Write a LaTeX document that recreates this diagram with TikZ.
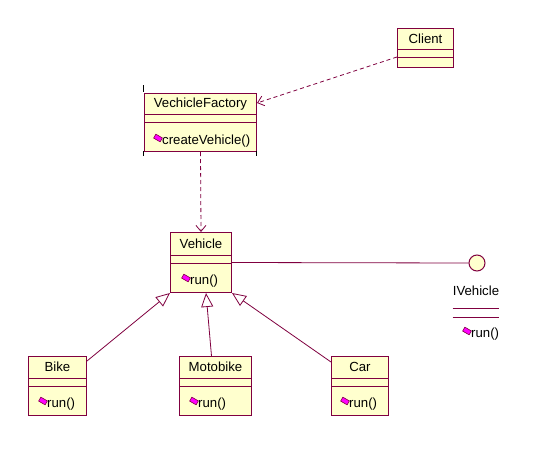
\documentclass[tikz,border=0pt]{standalone}
\usepackage{fontspec}
\setmainfont{Liberation Sans}
\usetikzlibrary{arrows.meta,calc}
\definecolor{umlfill}{RGB}{255,255,206}
\definecolor{umlline}{RGB}{128,0,64}
\definecolor{umlicon}{RGB}{255,0,255}
\begin{document}
\begin{tikzpicture}[x=1pt,y=-1pt,
 cls/.style={draw=umlline, fill=umlfill, line width=1pt, rectangle, inner sep=0, anchor=north west},
 ttl/.style={font=\fontsize{13.2}{15}\selectfont, inner sep=0},
 mth/.style={font=\fontsize{13.2}{15}\selectfont, inner sep=0, anchor=west},
 icon/.style={draw=umlline, fill=umlicon, line width=0.6pt, minimum width=7.5pt, minimum height=4.5pt, inner sep=0, rotate=-30},
 sep/.style={draw=umlline, line width=1pt},
 tick/.style={draw=black, line width=1pt},
 inherit/.style={draw=umlline, line width=0.8pt, -{Triangle[open,length=14pt,width=12pt,fill=white]}},
 dep/.style={draw=umlline, line width=0.8pt, dash pattern=on 4pt off 3pt, -{Straight Barb[length=6pt,width=10pt]}},
]
\useasboundingbox[fill=white] (0,0) rectangle (536,474);

% Client
\node[cls, minimum width=56pt, minimum height=39pt] (client) at (397,28) {};
\node[ttl] (clientT) at ($(client.north)+(0,11)$) {Client};
\draw[sep] ([yshift=-21pt]client.north west) -- ([yshift=-21pt]client.north east);
\draw[sep] ([yshift=-29pt]client.north west) -- ([yshift=-29pt]client.north east);

% VechicleFactory
\node[cls, minimum width=112pt, minimum height=58pt] (fac) at (144,93) {};
\node[ttl] (facT) at ($(fac.north)+(0,11)$) {VechicleFactory};
\draw[sep] ([yshift=-21pt]fac.north west) -- ([yshift=-21pt]fac.north east);
\draw[sep] ([yshift=-29pt]fac.north west) -- ([yshift=-29pt]fac.north east);
\node[mth] (facM) at ($(fac.south west)+(18,-11)$) {createVehicle()};
\node[icon] (facI) at ($(facM.west)+(-4,-3)$) {};
\draw[tick] (143,85) -- (143,92);
\draw[tick] (143,151) -- (143,156);
\draw[tick] (256,151) -- (256,156);

% Vehicle
\node[cls, minimum width=61pt, minimum height=60pt] (veh) at (170,232) {};
\node[ttl] (vehT) at ($(veh.north)+(0,12)$) {Vehicle};
\draw[sep] ([yshift=-23pt]veh.north west) -- ([yshift=-23pt]veh.north east);
\draw[sep] ([yshift=-31pt]veh.north west) -- ([yshift=-31pt]veh.north east);
\node[mth] (vehM) at ($(veh.south west)+(20,-12)$) {run()};
\node[icon] (vehI) at ($(vehM.west)+(-4,-3)$) {};

% Bike
\node[cls, minimum width=58pt, minimum height=59pt] (bike) at (28,356) {};
\node[ttl] (bikeT) at ($(bike.north)+(0,11)$) {Bike};
\draw[sep] ([yshift=-22pt]bike.north west) -- ([yshift=-22pt]bike.north east);
\draw[sep] ([yshift=-30pt]bike.north west) -- ([yshift=-30pt]bike.north east);
\node[mth] (bikeM) at ($(bike.south west)+(19,-12)$) {run()};
\node[icon] (bikeI) at ($(bikeM.west)+(-4,-3)$) {};

% Motobike
\node[cls, minimum width=72pt, minimum height=59pt] (moto) at (179,356) {};
\node[ttl] (motoT) at ($(moto.north)+(0,11)$) {Motobike};
\draw[sep] ([yshift=-22pt]moto.north west) -- ([yshift=-22pt]moto.north east);
\draw[sep] ([yshift=-30pt]moto.north west) -- ([yshift=-30pt]moto.north east);
\node[mth] (motoM) at ($(moto.south west)+(19,-12)$) {run()};
\node[icon] (motoI) at ($(motoM.west)+(-4,-3)$) {};

% Car
\node[cls, minimum width=57pt, minimum height=59pt] (car) at (331,356) {};
\node[ttl] (carT) at ($(car.north)+(0,11)$) {Car};
\draw[sep] ([yshift=-22pt]car.north west) -- ([yshift=-22pt]car.north east);
\draw[sep] ([yshift=-30pt]car.north west) -- ([yshift=-30pt]car.north east);
\node[mth] (carM) at ($(car.south west)+(18,-12)$) {run()};
\node[icon] (carI) at ($(carM.west)+(-4,-3)$) {};

% IVehicle interface
\node[circle, draw=umlline, fill=umlfill, line width=1pt, minimum size=16pt, inner sep=0] (iv) at (477,263) {};
\node[ttl] (ivT) at (476,291) {IVehicle};
\draw[sep] (ivT.west |- 0,308) -- (ivT.east |- 0,308);
\draw[sep] (ivT.west |- 0,317) -- (ivT.east |- 0,317);
\node[mth] (ivM) at (471,334) {run()};
\node[icon] (ivI) at ($(ivM.west)+(-4,-3)$) {};

% connectors
\draw[dep] ([yshift=-29pt]client.north west) -- ([yshift=-10pt]fac.north east);
\draw[dep] (fac.south) -- (veh.north);
\draw[draw=umlline, line width=0.8pt] (veh.east) -- (iv.west);
\draw[inherit] ([yshift=-5pt]bike.north east) -- (veh.south west);
\draw[inherit] ([xshift=-4pt]moto.north) -- ([xshift=5pt]veh.south);
\draw[inherit] ([yshift=-6pt]car.north west) -- (veh.south east);
\end{tikzpicture}
\end{document}
